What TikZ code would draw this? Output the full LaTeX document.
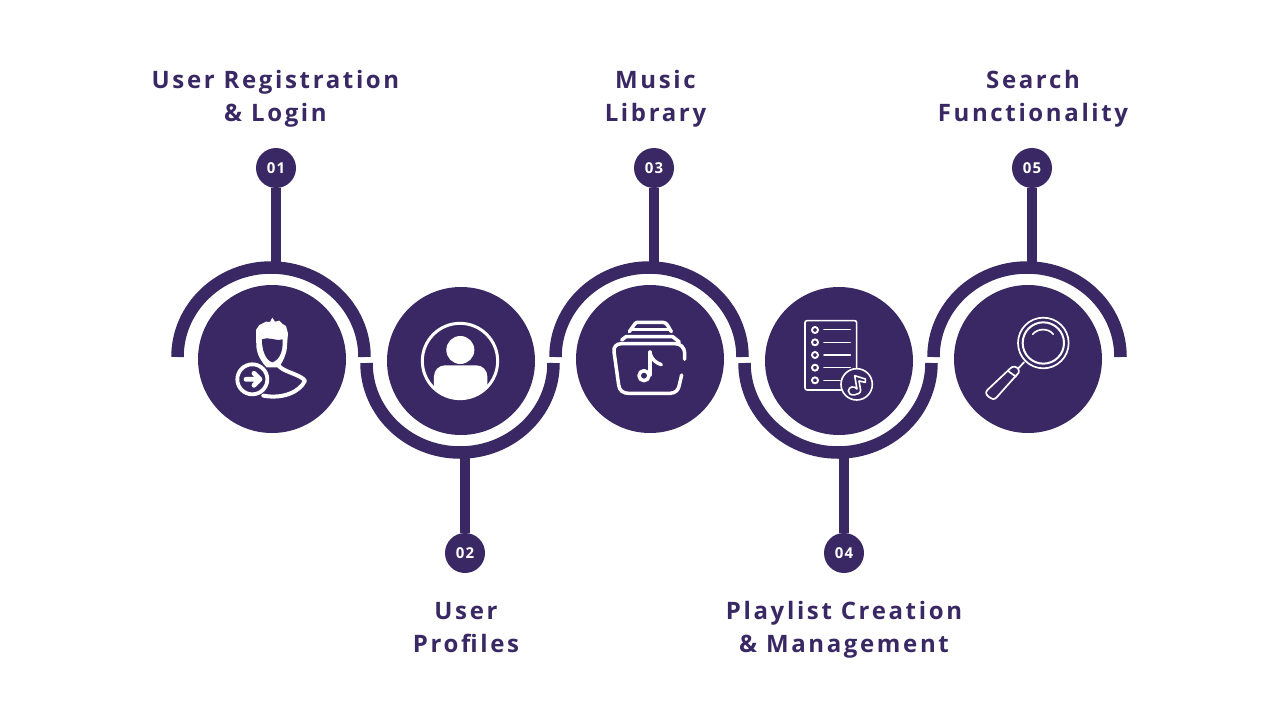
\documentclass[tikz,border=0pt]{standalone}
\usepackage{fontspec}
\setmainfont{Open Sans}
\newfontfamily\titlefont[LetterSpace=11]{Open Sans}
\newfontfamily\numfont[LetterSpace=9]{Open Sans}
\definecolor{plum}{HTML}{392864}
\begin{document}
\begin{tikzpicture}[x=1pt,y=-1pt,
  disc/.style={circle,fill=plum,minimum size=148pt,inner sep=0pt},
  numdot/.style={circle,fill=plum,minimum size=40pt,inner sep=0pt,text=white,font=\numfont\bfseries\fontsize{15}{15}\selectfont},
  stem/.style={draw=plum,line width=10pt},
  band/.style={draw=plum,line width=12.5pt},
  title/.style={text=plum,align=center,font=\titlefont\bfseries\fontsize{24}{33}\selectfont,inner sep=0pt},
  ico/.style={draw=white,line cap=round,line join=round,fill=none},
  zoomed/.style={x=.3333pt,y=-.3333pt}]
\useasboundingbox (0,0) rectangle (1280,720);
\fill[white] (0,0) rectangle (1280,720);
% arcs
\draw[band] (177.5,357) arc[start angle=180,end angle=0,x radius=93.5pt,y radius=89.5pt];
\draw[band] (555.5,357) arc[start angle=180,end angle=0,x radius=93.5pt,y radius=89.5pt];
\draw[band] (933.5,357) arc[start angle=180,end angle=0,x radius=93.5pt,y radius=89.5pt];
\draw[band] (366.5,363) arc[start angle=180,end angle=360,x radius=93.5pt,y radius=89.5pt];
\draw[band] (744.5,363) arc[start angle=180,end angle=360,x radius=93.5pt,y radius=89.5pt];
% stems
\coordinate (a1) at (276,268); \coordinate (a2) at (465,452);
\coordinate (a3) at (654,268); \coordinate (a4) at (844,452);
\coordinate (a5) at (1032,268);
\node[numdot] (n1) at (276,168) {01};
\node[numdot] (n2) at (465,553) {02};
\node[numdot] (n3) at (654,168) {03};
\node[numdot] (n4) at (844,553) {04};
\node[numdot] (n5) at (1032,168) {05};
\draw[stem] (n1.south) -- (a1);
\draw[stem] (n2.north) -- (a2);
\draw[stem] (n3.south) -- (a3);
\draw[stem] (n4.north) -- (a4);
\draw[stem] (n5.south) -- (a5);
% discs
\node[disc] (d1) at (272,359) {};
\node[disc] (d2) at (461,361) {};
\node[disc] (d3) at (650,359) {};
\node[disc] (d4) at (839,361) {};
\node[disc] (d5) at (1028,359) {};
% titles
\node[title] (t1) at (275.5,99) {User Registration\\\& Login};
\node[title] (t2) at (466,628) {User\\Profiles};
\node[title] (t3) at (655.5,99) {Music\\Library};
\node[title] (t4) at (844,630) {Playlist Creation\\\& Management};
\node[title] (t5) at (1033,99) {Search\\Functionality};
% icon 1
\begin{scope}[shift={(160,250)},zoomed]
\fill[white] (337,203) -- (345,215) -- (358,212) -- (368,222) -- (378,228) -- (384,250) -- (380,300)
  .. controls (374,325) and (364,345) .. (354,352) -- (320,352)
  .. controls (303,335) and (292,315) .. (289,290) -- (288,240) -- (298,225) -- (318,215) -- (330,216) -- cycle;
\fill[plum] (306,268) .. controls (325,258) and (345,275) .. (368,268)
  .. controls (370,300) and (360,330) .. (337,337) .. controls (318,332) and (305,300) .. (306,268) -- cycle;
\draw[ico,line width=4pt] (355,345) .. controls (365,365) and (420,372) .. (435,392)
  .. controls (420,425) and (370,448) .. (310,437);
\fill[plum] (280,388) circle[radius=50];
\draw[ico,line width=3.8pt] (277,388) circle[radius=45];
\draw[ico,line width=4.8pt] (258,388) -- (298,388) (282,370) -- (300,388) -- (282,406);
\end{scope}
% icon 2
\begin{scope}[shift={(360,280)},zoomed]
\draw[ico,line width=3pt] (300,243) circle[radius=113];
\fill[white] (301,210) circle[radius=42];
\begin{scope}
\clip (300,243) circle[radius=115];
\fill[white,rounded corners=11pt] (222,380) -- (222,256) -- (382,256) -- (382,380) -- cycle;
\end{scope}
\end{scope}
% icon 3
\begin{scope}[shift={(570,280)},zoomed]
\begin{scope}[ico,line width=3.5pt]
\draw (344,238) -- (344,222) .. controls (344,200) and (330,191) .. (315,191) -- (155,191)
  .. controls (140,191) and (130,200) .. (132,215) -- (146,315) .. controls (148,332) and (160,340) .. (175,340)
  -- (300,340) .. controls (318,340) and (326,328) .. (328,315) -- (335,285);
\draw (155,180) -- (168,170) -- (308,170) -- (328,186);
\draw (178,155) -- (195,131) .. controls (198,127) and (202,127) .. (206,127) -- (278,127) .. controls (285,127) and (288,130) .. (292,135) -- (304,155);
\draw (185,149) -- (295,149);
\draw (240,216) -- (240,285);
\draw (222,287) circle[radius=15];
\draw (240,218) .. controls (245,240) and (258,248) .. (274,254);
\end{scope}
\end{scope}
% icon 4
\begin{scope}[shift={(760,285)},zoomed]
\begin{scope}[ico,line width=1.6pt]
\draw[rounded corners=2pt] (135,107) rectangle (290,315);
\foreach \yy in {135,172,210,248,286} \draw[line width=1.9pt] (165,\yy) circle[radius=9];
\foreach \yy in {134,172,210,248} \draw (192,\yy) -- (271,\yy);
\draw (192,286) -- (240,286);
\fill[plum,draw=white] (290,298) circle[radius=47];
\draw (291,312) -- (284,272) -- (316,282) -- (316,292) -- (297,288) -- (302,316)
  .. controls (302,332) and (264,336) .. (265,318) .. controls (266,304) and (284,302) .. (291,312) -- cycle;
\end{scope}
\end{scope}
% icon 5
\begin{scope}[shift={(950,285)},zoomed]
\begin{scope}[ico,line width=1.7pt]
\draw (280,174) circle[radius=76];
\draw[line width=2pt] (280,174) circle[radius=62];
\draw (248,148) .. controls (262,130) and (295,128) .. (310,148);
\draw (222,232) -- (206,249);
\draw (178,253) .. controls (188,240) and (200,245) .. (205,252) .. controls (210,262) and (203,268) .. (198,272)
  -- (140,337) .. controls (133,345) and (125,343) .. (118,337) .. controls (108,330) and (106,322) .. (112,315) -- cycle;
\draw (174,258) -- (198,275);
\end{scope}
\end{scope}
\end{tikzpicture}
\end{document}
